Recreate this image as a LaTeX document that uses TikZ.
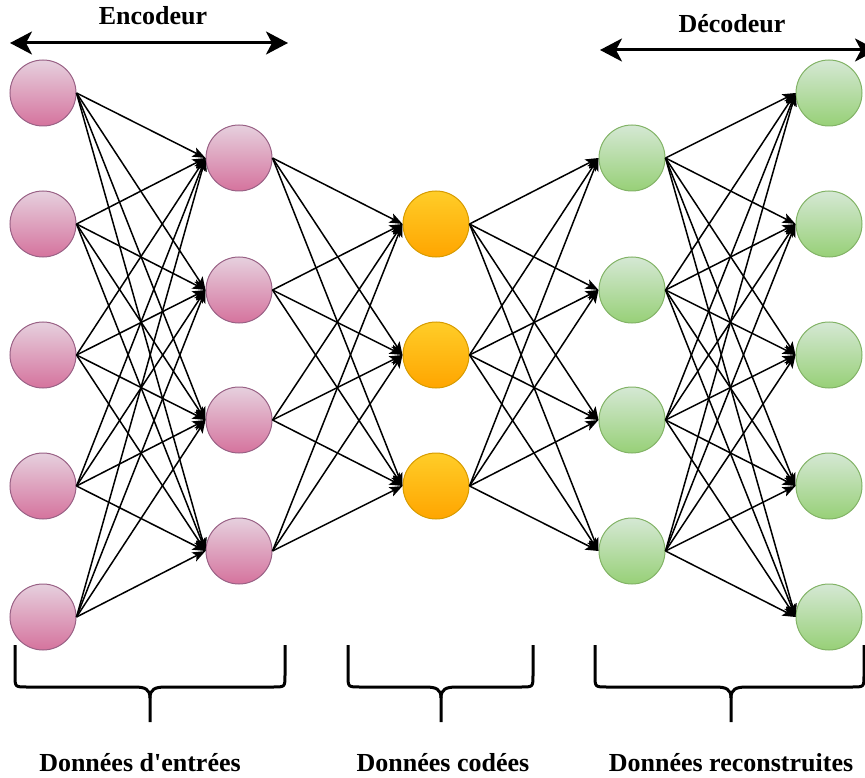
\documentclass[tikz,border=0pt]{standalone}
\usepackage{fontspec}
\setmainfont{Liberation Serif}[Ligatures=TeXOff]
\usetikzlibrary{arrows.meta}

\definecolor{pinkTop}{HTML}{E6D0DE}
\definecolor{pinkBot}{HTML}{D5739D}
\definecolor{pinkLine}{HTML}{996185}
\definecolor{orangeTop}{HTML}{FFCD28}
\definecolor{orangeBot}{HTML}{FFA500}
\definecolor{orangeLine}{HTML}{D79B00}
\definecolor{greenTop}{HTML}{D5E8D4}
\definecolor{greenBot}{HTML}{97D077}
\definecolor{greenLine}{HTML}{82B366}

% horizontal curly bracket: left x, middle x, right x
\newcommand\layerbrace[3]{%
  \draw[bracestyle] (#1,645) -- (#1,675) .. controls (#1,687) .. (#1+12,687)
    -- (#2-16,687) .. controls (#2-5,687) and (#2,689) .. (#2,698) -- (#2,722);
  \draw[bracestyle] (#3,645) -- (#3,675) .. controls (#3,687) .. (#3-12,687)
    -- (#2+16,687) .. controls (#2+5,687) and (#2,689) .. (#2,698);
}

\begin{document}
\begin{tikzpicture}[x=1pt,y=-1pt,
  neuron/.style={circle, minimum size=66pt, inner sep=0pt, line width=1pt},
  pinkn/.style={neuron, draw=pinkLine, top color=pinkTop, bottom color=pinkBot},
  orangen/.style={neuron, draw=orangeLine, top color=orangeTop, bottom color=orangeBot},
  greenn/.style={neuron, draw=greenLine, top color=greenTop, bottom color=greenBot},
  link/.style={line width=1.5pt, -{Stealth[length=13pt,width=10pt,inset=3pt]}},
  span/.style={line width=3pt,
    {Stealth[length=22pt,width=23pt,inset=6pt]}-{Stealth[length=22pt,width=23pt,inset=6pt]}},
  bracestyle/.style={line width=3pt, line cap=butt},
  caption/.style={font=\fontsize{26}{30}\selectfont\bfseries, anchor=base, inner sep=0pt}
]
\useasboundingbox (0,0) rectangle (865,778);

% layers of neurons
\foreach \i/\y in {1/93,2/224,3/355,4/486,5/617}
  \node[pinkn] (a\i) at (43,\y) {};
\foreach \i/\y in {1/158,2/290,3/420,4/551}
  \node[pinkn] (b\i) at (239,\y) {};
\foreach \i/\y in {1/224,2/355,3/486}
  \node[orangen] (c\i) at (436,\y) {};
\foreach \i/\y in {1/158,2/290,3/420,4/551}
  \node[greenn] (d\i) at (632,\y) {};
\foreach \i/\y in {1/93,2/224,3/355,4/486,5/617}
  \node[greenn] (e\i) at (829,\y) {};

% fully connected links
\foreach \i in {1,...,5}
  \foreach \j in {1,...,4}
    \draw[link] (a\i.east) -- (b\j.west);
\foreach \i in {1,...,4}
  \foreach \j in {1,...,3}
    \draw[link] (b\i.east) -- (c\j.west);
\foreach \i in {1,...,3}
  \foreach \j in {1,...,4}
    \draw[link] (c\i.east) -- (d\j.west);
\foreach \i in {1,...,4}
  \foreach \j in {1,...,5}
    \draw[link] (d\i.east) -- (e\j.west);

% encoder / decoder spans
\coordinate (encL) at (10,43);
\coordinate (encR) at (288,43);
\coordinate (decL) at (600,50);
\coordinate (decR) at (877,50);
\draw[span] (encL) -- (encR);
\draw[span] (decL) -- (decR);
\node[caption] (enc) at (153,25) {Encodeur};
\node[caption] (dec) at (732,33) {Décodeur};

% brackets and captions
\layerbrace{15}{150}{285}
\layerbrace{348}{441}{533}
\layerbrace{595}{731}{864}
\node[caption] (in) at (140,771) {Données d'entrées};
\node[caption] (code) at (443,771) {Données codées};
\node[caption] (out) at (731,771) {Données reconstruites};
\end{tikzpicture}
\end{document}
